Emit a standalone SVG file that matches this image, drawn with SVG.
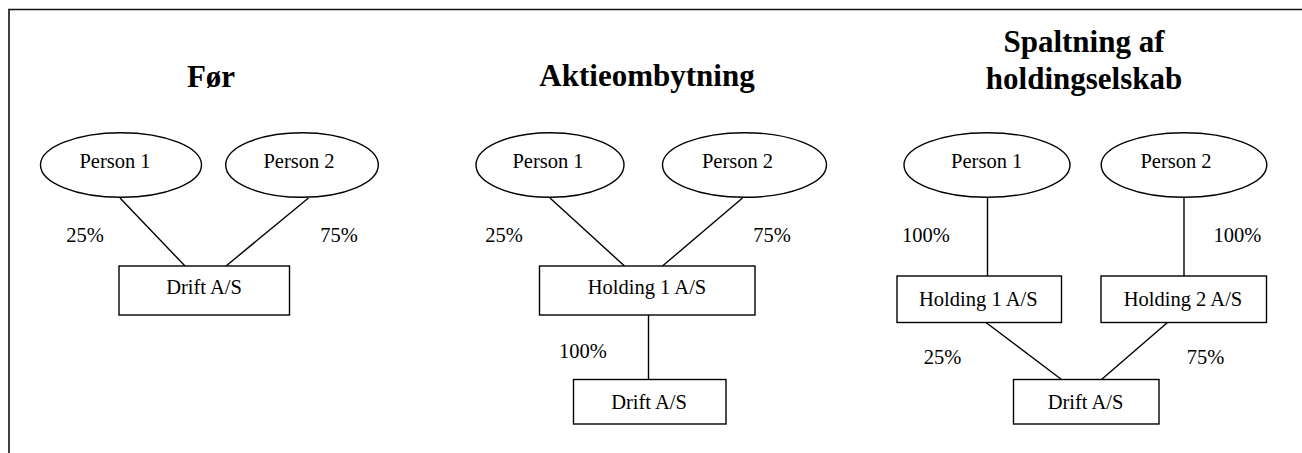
<svg xmlns="http://www.w3.org/2000/svg" width="1302" height="453" viewBox="0 0 1302 453">
<style>
.sh{fill:#fff;stroke:#000;stroke-width:1.4}
.ln{stroke:#000;stroke-width:1.4;fill:none}
.t{font-family:"Liberation Serif","Times New Roman",serif;font-size:20.5px;fill:#000;text-anchor:middle}
.h{font-family:"Liberation Serif","Times New Roman",serif;font-size:31px;font-weight:bold;fill:#000;text-anchor:middle}
</style>
<rect x="0" y="0" width="1302" height="453" fill="#fff"/>
<path d="M9,453 V9.5 H1302" fill="none" stroke="#111" stroke-width="1.6"/>
<g id="titles">
<text class="h" x="211" y="87">Før</text>
<text class="h" x="647" y="86">Aktieombytning</text>
<text class="h" x="1084" y="52">Spaltning af</text>
<text class="h" x="1084" y="89">holdingselskab</text>
</g>
<g id="connectors">
<line class="ln" x1="120" y1="198" x2="185" y2="266"/>
<line class="ln" x1="308.5" y1="198" x2="226" y2="266"/>
<line class="ln" x1="550" y1="198" x2="624.5" y2="266"/>
<line class="ln" x1="742.5" y1="198" x2="662.5" y2="266"/>
<line class="ln" x1="648.5" y1="315" x2="648.5" y2="379.5"/>
<line class="ln" x1="987.5" y1="197" x2="987.5" y2="276"/>
<line class="ln" x1="1184" y1="197" x2="1184" y2="276"/>
<line class="ln" x1="986" y1="322.5" x2="1061.5" y2="379.5"/>
<line class="ln" x1="1167.5" y1="322.5" x2="1101.5" y2="379.5"/>
<text class="t" x="85" y="242">25%</text>
<text class="t" x="339" y="242">75%</text>
<text class="t" x="504" y="242">25%</text>
<text class="t" x="772" y="242">75%</text>
<text class="t" x="583" y="358">100%</text>
<text class="t" x="926" y="242">100%</text>
<text class="t" x="1237.5" y="242">100%</text>
<text class="t" x="942.5" y="364">25%</text>
<text class="t" x="1205.5" y="364">75%</text>
</g>
<g id="f-person1"><ellipse class="sh" cx="121" cy="165" rx="80.5" ry="32.3"/><text class="t" x="115" y="168">Person 1</text></g>
<g id="f-person2"><ellipse class="sh" cx="302" cy="165" rx="76.3" ry="32.3"/><text class="t" x="299" y="168">Person 2</text></g>
<g id="f-drift"><rect class="sh" x="119" y="266" width="170.5" height="49"/><text class="t" x="204" y="294">Drift A/S</text></g>
<g id="a-person1"><ellipse class="sh" cx="550" cy="165" rx="74" ry="32.3"/><text class="t" x="548" y="168">Person 1</text></g>
<g id="a-person2"><ellipse class="sh" cx="744.5" cy="165" rx="82" ry="32.3"/><text class="t" x="737.5" y="168">Person 2</text></g>
<g id="a-holding1"><rect class="sh" x="539.5" y="266" width="215.5" height="49"/><text class="t" x="647" y="294">Holding 1 A/S</text></g>
<g id="a-drift"><rect class="sh" x="573.5" y="379.5" width="152.5" height="44.5"/><text class="t" x="649" y="409">Drift A/S</text></g>
<g id="s-person1"><ellipse class="sh" cx="987" cy="165" rx="83" ry="32.3"/><text class="t" x="986.7" y="168">Person 1</text></g>
<g id="s-person2"><ellipse class="sh" cx="1184" cy="165" rx="82.8" ry="32.3"/><text class="t" x="1176" y="168">Person 2</text></g>
<g id="s-holding1"><rect class="sh" x="897" y="276" width="164.5" height="46.5"/><text class="t" x="978.3" y="306">Holding 1 A/S</text></g>
<g id="s-holding2"><rect class="sh" x="1101" y="276" width="165.5" height="46.5"/><text class="t" x="1183" y="306">Holding 2 A/S</text></g>
<g id="s-drift"><rect class="sh" x="1013.5" y="379.5" width="145.5" height="44.5"/><text class="t" x="1085.5" y="409">Drift A/S</text></g>
</svg>
